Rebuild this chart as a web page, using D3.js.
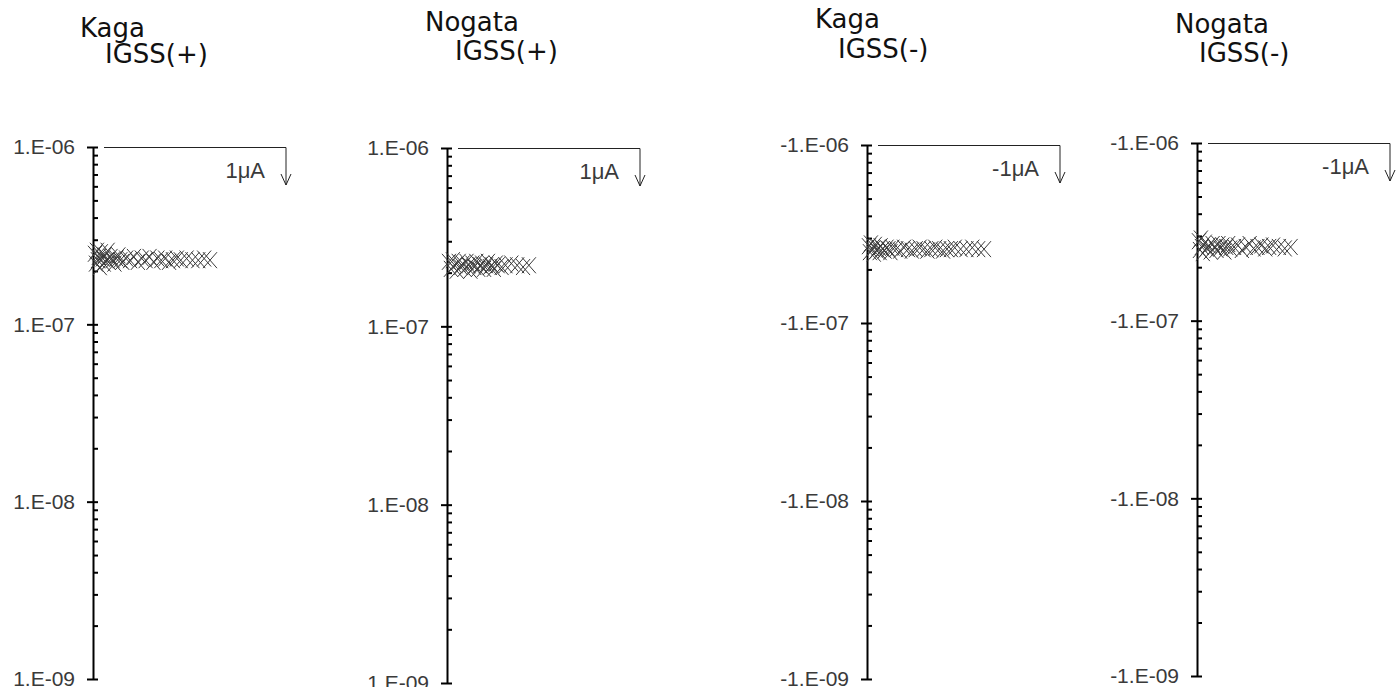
<!DOCTYPE html>
<html>
<head>
<meta charset="utf-8">
<script src="https://cdn.jsdelivr.net/npm/d3@7"></script>
<style>
  body { margin: 0; background: #fff; }
  .tick text { font-family: "Liberation Sans", Arial, sans-serif; font-size: 21px; fill: #3a3a3a; }
  .title { font-family: "DejaVu Sans", sans-serif; font-size: 26px; fill: #111; }
  .unit { font-family: "Liberation Sans", Arial, sans-serif; font-size: 22px; fill: #3a3a3a; }
</style>
</head>
<body>
<svg id="chart" width="1396" height="687"></svg>
<script>
// values are in units of 1e-7 A, x is the measurement index
const UNIT = 1e-7;

const kagaPlusX = [1, 1.5, 2, 2.5, 3, 3.5, 4, 5, 5.5, 6, 7, 7.5, 8, 9, 10, 11, 12, 13, 14, 15,
  17, 19, 21, 23, 25, 27, 29, 31, 33, 35, 37, 39, 41, 43, 45, 48, 51, 54, 57, 60];
const kagaPlusY = [2.5, 2.2, 2.6, 2.3, 2.4, 2.1, 2.55, 2.35, 2.2, 2.45, 2.3, 2.6, 2.25, 2.4, 2.3, 2.2, 2.35, 2.45, 2.3, 2.25,
  2.35, 2.3, 2.4, 2.25, 2.35, 2.3, 2.4, 2.25, 2.35, 2.3, 2.35, 2.25, 2.3, 2.35, 2.3, 2.35, 2.3, 2.3, 2.35, 2.3];

const nogataPlusX = [1, 2, 3, 4, 5, 6, 7, 8, 9, 10, 11, 12, 13, 14, 15, 16, 17, 18, 19, 20,
  21, 22, 23, 24, 25, 26, 28, 30, 33, 36, 39, 42];
const nogataPlusY = [2.3, 2.1, 2.35, 2.2, 2.05, 2.3, 2.15, 2.25, 2.1, 2.3, 2.2, 2.05, 2.25, 2.15, 2.3, 2.1, 2.2, 2.25, 2.1, 2.2,
  2.3, 2.15, 2.2, 2.1, 2.25, 2.2, 2.15, 2.2, 2.25, 2.2, 2.15, 2.2];

const kagaMinusX = [1, 1.5, 2, 3, 3.5, 4, 5, 6, 6.5, 7, 8, 9, 10, 11, 12, 13,
  15, 17, 19, 21, 23, 25, 27, 29, 31, 33, 35, 37, 39, 41, 43, 45, 48, 51, 54, 57, 60];
const kagaMinusY = [2.7, 2.5, 2.8, 2.6, 2.45, 2.75, 2.55, 2.65, 2.5, 2.7, 2.6, 2.55, 2.65, 2.6, 2.5, 2.65,
  2.6, 2.55, 2.65, 2.6, 2.55, 2.6, 2.65, 2.6, 2.55, 2.6, 2.65, 2.6, 2.55, 2.6, 2.6, 2.65, 2.6, 2.6, 2.65, 2.6, 2.6];

const nogataMinusX = [1, 1.5, 2, 2.5, 3, 4, 5, 6, 7, 8, 9, 10, 11, 12, 13, 14, 15, 16, 17,
  19, 21, 23, 25, 27, 29, 31, 33, 35, 37, 39, 42, 45, 48];
const nogataMinusY = [2.8, 2.5, 2.9, 2.6, 2.4, 2.75, 2.55, 2.65, 2.45, 2.7, 2.6, 2.5, 2.7, 2.55, 2.65, 2.45, 2.6, 2.7, 2.55,
  2.6, 2.65, 2.5, 2.6, 2.7, 2.55, 2.6, 2.65, 2.55, 2.6, 2.65, 2.6, 2.55, 2.6];

const tickValues = [1e-6, 1e-7, 1e-8, 1e-9];
const plusLabels = ["1.E-06", "1.E-07", "1.E-08", "1.E-09"];
const minusLabels = ["-1.E-06", "-1.E-07", "-1.E-08", "-1.E-09"];

const panels = [
  { site: "Kaga", test: "IGSS(+)", unit: "1\u03bcA", labels: plusLabels, xs: kagaPlusX, ys: kagaPlusY,
    axisX: 93, top: 147, bottom: 679, t1: [80, 37], t2: [105, 63] },
  { site: "Nogata", test: "IGSS(+)", unit: "1\u03bcA", labels: plusLabels, xs: nogataPlusX, ys: nogataPlusY,
    axisX: 447, top: 148, bottom: 683, t1: [425, 31], t2: [455, 60] },
  { site: "Kaga", test: "IGSS(-)", unit: "-1\u03bcA", labels: minusLabels, xs: kagaMinusX, ys: kagaMinusY,
    axisX: 867, top: 145, bottom: 679, t1: [815, 28], t2: [838, 58] },
  { site: "Nogata", test: "IGSS(-)", unit: "-1\u03bcA", labels: minusLabels, xs: nogataMinusX, ys: nogataMinusY,
    axisX: 1197, top: 143, bottom: 676, t1: [1175, 33], t2: [1199, 62] }
];

const svg = d3.select("#chart");
const cross = "M-7,-8L7,8M-7,8L7,-8";

panels.forEach(p => {
  const g = svg.append("g");

  const y = d3.scaleLog().domain([1e-9, 1e-6]).range([p.bottom, p.top]);
  const x = d3.scaleLinear().domain([0, 100]).range([p.axisX, p.axisX + 195]);

  // titles
  g.append("text").attr("class", "title").attr("x", p.t1[0]).attr("y", p.t1[1]).text(p.site);
  g.append("text").attr("class", "title").attr("x", p.t2[0]).attr("y", p.t2[1]).text(p.test);

  // minor ticks on the right side of the axis
  g.append("g")
    .attr("transform", `translate(${p.axisX},0)`)
    .call(d3.axisRight(y).tickValues(y.ticks()).tickSize(5).tickFormat(""))
    .call(a => a.select(".domain").remove())
    .call(a => a.selectAll("line").attr("stroke", "#000").attr("stroke-width", 2));

  // major ticks with labels
  g.append("g")
    .attr("transform", `translate(${p.axisX},0)`)
    .call(d3.axisLeft(y).tickValues(tickValues).tickSize(6).tickSizeOuter(0).tickPadding(12)
      .tickFormat((d, i) => p.labels[i]))
    .call(a => a.select(".domain").attr("stroke", "#000").attr("stroke-width", 2))
    .call(a => a.selectAll("line").attr("stroke", "#000").attr("stroke-width", 2));

  // scale bar with arrow
  const ax = p.axisX + 193;
  g.append("path")
    .attr("d", `M${p.axisX + 11},${p.top + 0.5}H${ax}V${p.top + 38}`)
    .attr("fill", "none").attr("stroke", "#222").attr("stroke-width", 1);
  g.append("path")
    .attr("d", `M${ax - 5},${p.top + 27}L${ax},${p.top + 38}L${ax + 5},${p.top + 27}`)
    .attr("fill", "none").attr("stroke", "#222").attr("stroke-width", 1);
  g.append("text").attr("class", "unit")
    .attr("x", p.axisX + 172).attr("y", p.top + 31)
    .attr("text-anchor", "end").text(p.unit);

  // measurement points
  g.selectAll("path.pt")
    .data(p.xs.map((v, i) => ({ x: v, y: p.ys[i] * UNIT })))
    .enter().append("path")
    .attr("class", "pt")
    .attr("d", cross)
    .attr("transform", d => `translate(${x(d.x)},${y(d.y)})`)
    .attr("fill", "none")
    .attr("stroke", "#3a3a3a")
    .attr("stroke-width", 1);
});
</script>
</body>
</html>
